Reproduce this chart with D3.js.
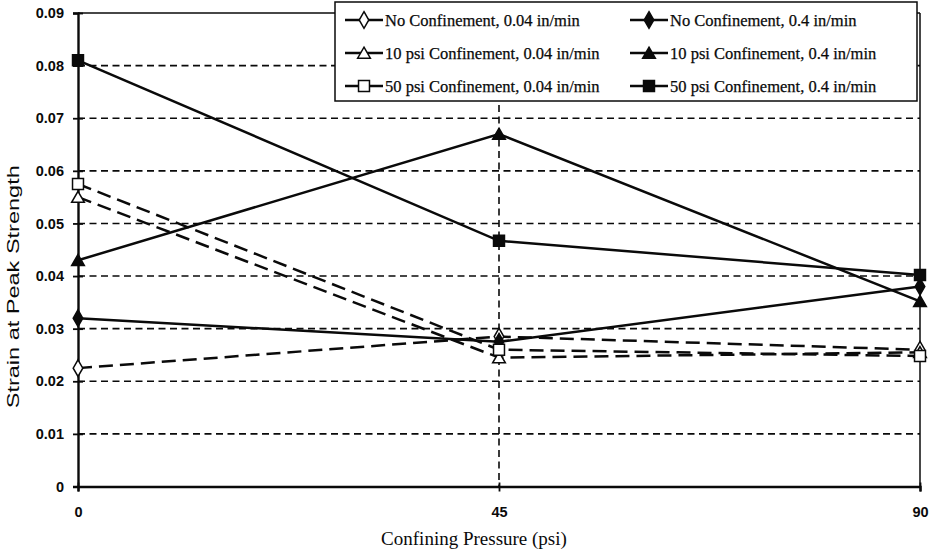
<!DOCTYPE html>
<html>
<head>
<meta charset="utf-8">
<script src="https://cdn.jsdelivr.net/npm/d3@7"></script>
<style>
html,body{margin:0;padding:0;background:#fff;}
svg{display:block;}
</style>
</head>
<body>
<svg id="chart" width="934" height="559"></svg>
<script>
const pressures = [0, 45, 90];
const yTicks = [0, 0.01, 0.02, 0.03, 0.04, 0.05, 0.06, 0.07, 0.08, 0.09];
const seriesNames = [
  "No Confinement, 0.04 in/min",
  "No Confinement, 0.4 in/min",
  "10 psi Confinement, 0.04 in/min",
  "10 psi Confinement, 0.4 in/min",
  "50 psi Confinement, 0.04 in/min",
  "50 psi Confinement, 0.4 in/min"
];
const noConfSlow   = [0.0225, 0.0285, 0.026];
const noConfFast   = [0.032, 0.0275, 0.038];
const psi10Slow    = [0.055, 0.0245, 0.0255];
const psi10Fast    = [0.043, 0.067, 0.0352];
const psi50Slow    = [0.0575, 0.026, 0.0248];
const psi50Fast    = [0.081, 0.0467, 0.0402];

const seriesValues = [noConfSlow, noConfFast, psi10Slow, psi10Fast, psi50Slow, psi50Fast];
const shapes = ["diamond","diamond","triangle","triangle","square","square"];
const filled = [false,true,false,true,false,true];
const dashed = [true,false,true,false,true,false];

const ink = "#0a0a0a";
const svg = d3.select("#chart");
const m = {left:78, right:920, top:13, bottom:486.5};
const x = d3.scaleLinear().domain([0,90]).range([m.left, m.right]);
const y = d3.scaleLinear().domain([0,0.09]).range([m.bottom, m.top]);

// gridlines
svg.append("g").selectAll("line").data(yTicks.filter(t=>t>0 && t<0.09)).join("line")
  .attr("x1", m.left).attr("x2", m.right)
  .attr("y1", d=>y(d)).attr("y2", d=>y(d))
  .attr("stroke",ink).attr("stroke-width",1.6).attr("stroke-dasharray","7,4.5");
svg.append("line").attr("x1",x(45)).attr("x2",x(45)).attr("y1",m.top).attr("y2",m.bottom)
  .attr("stroke",ink).attr("stroke-width",1.6).attr("stroke-dasharray","7,4.5");
// border top & right
svg.append("line").attr("x1",m.left).attr("x2",m.right).attr("y1",y(0.09)).attr("y2",y(0.09))
  .attr("stroke",ink).attr("stroke-width",1.5);
svg.append("line").attr("x1",m.right).attr("x2",m.right).attr("y1",m.top).attr("y2",m.bottom)
  .attr("stroke",ink).attr("stroke-width",1.5);

// axes
const yAxis = d3.axisLeft(y).tickValues(yTicks).tickFormat(d=> d===0 ? "0" : d3.format(".2f")(d)).tickSize(5).tickPadding(9);
const gy = svg.append("g").attr("transform",`translate(${m.left},0)`).call(yAxis);
gy.select(".domain").attr("stroke",ink).attr("stroke-width",2.4);
gy.selectAll(".tick line").attr("stroke",ink).attr("stroke-width",1.8).attr("x2",-5).attr("x1",5);
gy.selectAll("text").attr("font-family","Liberation Sans, Arial, sans-serif").attr("font-weight","bold")
  .attr("font-size",14.5).attr("fill",ink);

const xAxis = d3.axisBottom(x).tickValues(pressures).tickSize(5).tickPadding(15);
const gx = svg.append("g").attr("transform",`translate(0,${m.bottom})`).call(xAxis);
gx.select(".domain").attr("stroke",ink).attr("stroke-width",2.4);
gx.selectAll(".tick line").attr("stroke",ink).attr("stroke-width",1.8).attr("y1",-4).attr("y2",5);
gx.selectAll("text").attr("font-family","Liberation Sans, Arial, sans-serif").attr("font-weight","bold")
  .attr("font-size",14.5).attr("fill",ink);

// axis titles
svg.append("text").attr("x",474).attr("y",545).attr("text-anchor","middle")
  .attr("font-family","Liberation Serif, Times New Roman, serif").attr("font-size",19).attr("fill",ink)
  .text("Confining Pressure (psi)");
svg.append("text").attr("transform",`translate(19,${(m.top+m.bottom)/2 + 37}) rotate(-90)`).attr("text-anchor","middle")
  .attr("font-family","Liberation Sans, Arial, sans-serif").attr("font-size",16).attr("fill",ink)
  .attr("textLength",243).attr("lengthAdjust","spacingAndGlyphs")
  .text("Strain at Peak Strength");

function symbolPath(shape){
  if(shape==="diamond") return d3.symbol(d3.symbolDiamond, 80)();
  if(shape==="triangle") return d3.symbol(d3.symbolTriangle, 70)();
  return d3.symbol(d3.symbolSquare, 120)();
}
function symbolOffset(shape){ return shape==="triangle" ? 1.5 : 0; }

const line = d3.line().x((d,i)=>x(pressures[i])).y(d=>y(d));
seriesValues.forEach((vals,k)=>{
  svg.append("path").datum(vals).attr("d",line).attr("fill","none")
    .attr("stroke",ink).attr("stroke-width",2.5)
    .attr("stroke-dasharray", dashed[k] ? "14,7" : null);
});
seriesValues.forEach((vals,k)=>{
  svg.append("g").selectAll("path").data(vals).join("path")
    .attr("d", symbolPath(shapes[k]))
    .attr("transform",(d,i)=>`translate(${x(pressures[i])},${y(d)+symbolOffset(shapes[k])})`)
    .attr("fill", filled[k] ? ink : "#fff")
    .attr("stroke",ink).attr("stroke-width",1.5);
});

// legend
const lg = svg.append("g");
lg.append("rect").attr("x",335).attr("y",2).attr("width",582).attr("height",99)
  .attr("fill","#fff").attr("stroke",ink).attr("stroke-width",1.5);
const colX = [345, 630];
const rowY = [20, 53, 86];
seriesNames.forEach((name,k)=>{
  const cx = colX[k%2], cy = rowY[Math.floor(k/2)];
  lg.append("line").attr("x1",cx).attr("x2",cx+38).attr("y1",cy).attr("y2",cy)
    .attr("stroke",ink).attr("stroke-width",2.5);
  lg.append("path").attr("d",symbolPath(shapes[k]))
    .attr("transform",`translate(${cx+19},${cy+symbolOffset(shapes[k])})`)
    .attr("fill", filled[k] ? ink : "#fff").attr("stroke",ink).attr("stroke-width",1.5);
  lg.append("text").attr("x",cx+40).attr("y",cy+5.5)
    .attr("font-family","Liberation Serif, Times New Roman, serif").attr("font-size",16.5).attr("fill",ink)
    .attr("stroke",ink).attr("stroke-width",0.25)
    .text(name);
});
</script>
</body>
</html>
